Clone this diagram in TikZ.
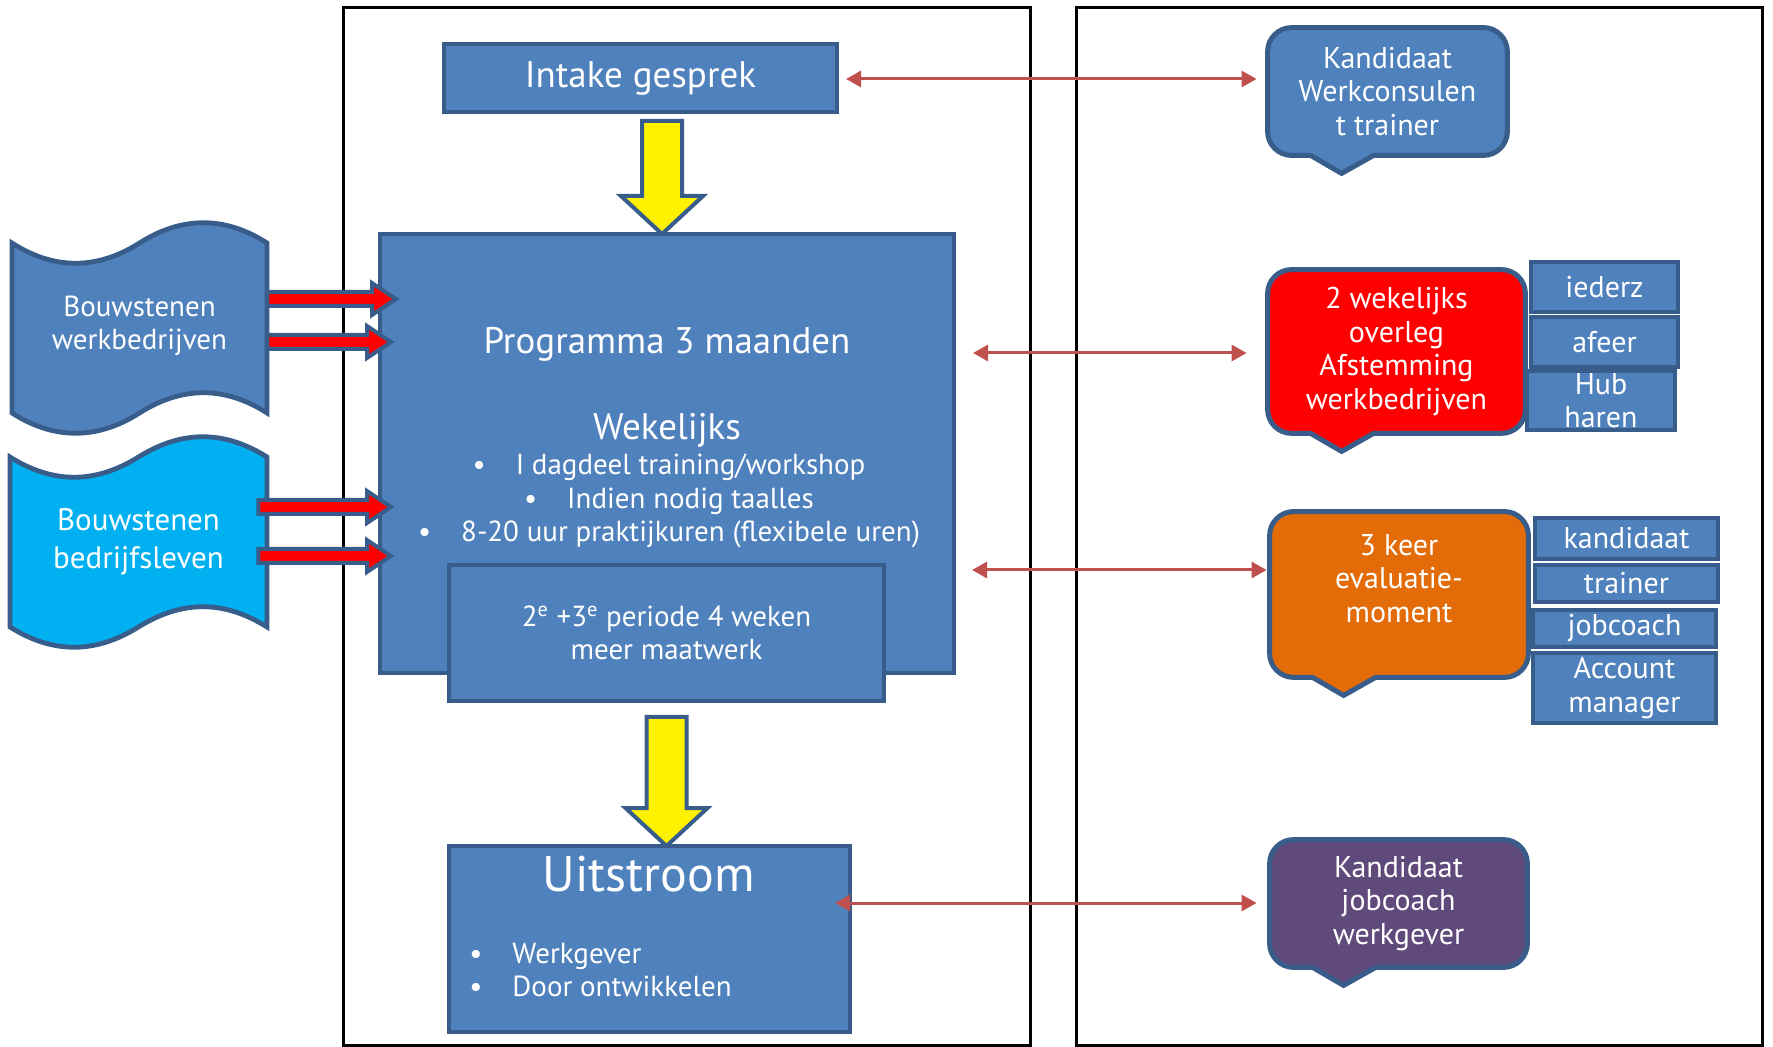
\documentclass[tikz,border=0pt]{standalone}
\usepackage{fontspec}
\setmainfont{PT Sans}
\usetikzlibrary{arrows.meta,calc,backgrounds}

\definecolor{blauw}{HTML}{4F81BD}
\definecolor{rand}{HTML}{385D8A}
\definecolor{lichtblauw}{HTML}{00B0F0}
\definecolor{oranje}{HTML}{E36C09}
\definecolor{paars}{HTML}{604A7B}
\definecolor{pijlrood}{HTML}{C0504D}

\newcommand\grootfont{\fontsize{18.5}{21}\selectfont}
\newcommand\lijstfont{\fontsize{14.5}{16.75}\selectfont}
\newcommand\ballonfont{\fontsize{15}{16.75}\selectfont}

% spreekballon om een node heen
\newcommand{\ballon}[2]{%
  \filldraw[ballonrand, fill=#2] ($(#1.south west)+(43,0)$)
    -- ($(#1.south west)+(24,0)$) arc[start angle=270, end angle=180, radius=12pt]
    -- ($(#1.north west)+(0,24)$) arc[start angle=180, end angle=90, radius=12pt]
    -- ($(#1.north east)+(-24,0)$) arc[start angle=90, end angle=0, radius=12pt]
    -- ($(#1.south east)+(0,-24)$) arc[start angle=0, end angle=-90, radius=12pt]
    -- ($(#1.south west)+(106,0)$) -- ($(#1.south west)+(74,18)$) -- cycle;}

% gele blokpijl naar beneden
\newcommand{\geelpijl}[2]{%
  \filldraw[geelpijl] let \p1=(#1), \p2=(#2) in
    (\x1-10pt,\y1) -- (\x1+10pt,\y1) -- (\x1+10pt,\y2+19pt) -- (\x1+20.5pt,\y2+19pt)
    -- (\x1,\y2) -- (\x1-20.5pt,\y2+19pt) -- (\x1-10pt,\y2+19pt) -- cycle;}

% rode blokpijl naar rechts
\newcommand{\rodepijl}[2]{%
  \filldraw[rodepijl] let \p1=(#1), \p2=(#2) in
    (\x1,\y1+3.5pt) -- (\x2-12pt,\y1+3.5pt) -- (\x2-12pt,\y1+8pt) -- (\x2,\y1)
    -- (\x2-12pt,\y1-8pt) -- (\x2-12pt,\y1-3.5pt) -- (\x1,\y1-3.5pt) -- cycle;}

\begin{document}
\begin{tikzpicture}[x=0.5pt,y=-0.5pt,
    kader/.style={draw=black,line width=1.5pt},
    tekst/.style={text=white,inner sep=0pt,align=center},
    blok/.style={draw=rand,fill=blauw,line width=2pt,inner sep=0pt,text=white,align=center,font=\lijstfont},
    klein/.style={blok,line width=2.4pt,font=\ballonfont},
    tape/.style={draw=rand,line width=2.4pt},
    tapetekst/.style={tekst,inner sep=0pt,font=\lijstfont},
    ballon/.style={tekst,inner sep=0pt,font=\ballonfont},
    ballonrand/.style={draw=rand,line width=2.5pt},
    geelpijl/.style={draw=rand,fill=yellow,line width=2pt},
    rodepijl/.style={draw=rand,fill=red,line width=2pt},
    dblpijl/.style={pijlrood,line width=1.5pt,{Triangle[length=7.5pt,width=8pt]}-{Triangle[length=7.5pt,width=8pt]}}]

  \useasboundingbox (0,0) rectangle (1773,1047);

  % kaders
  \draw[kader] (343,8) rectangle (1030,1045);
  \draw[kader] (1076,8) rectangle (1762,1045);

  % bouwstenen
  \filldraw[tape,fill=blauw] (12,243) .. controls (54,270) and (97,270) .. (139.5,243)
    .. controls (182,216) and (225,216) .. (267,243) -- (267,413)
    .. controls (225,386) and (182,386) .. (139.5,413)
    .. controls (97,440) and (54,440) .. (12,413) -- cycle;
  \node[tapetekst,minimum width=127.5pt,minimum height=104pt] (werk) at (139.5,326) {Bouwstenen\\werkbedrijven};
  \filldraw[tape,fill=lichtblauw] (10,457) .. controls (53,484) and (95,484) .. (138.5,457)
    .. controls (182,430) and (224,430) .. (267,457) -- (267,627)
    .. controls (224,600) and (182,600) .. (138.5,627)
    .. controls (95,654) and (53,654) .. (10,627) -- cycle;
  \node[tapetekst,font=\fontsize{15.5}{19}\selectfont,minimum width=128.5pt,minimum height=105pt] (bedr) at (138.5,542) {Bouwstenen\\bedrijfsleven};

  % middenkolom
  \node[blok,font=\grootfont,minimum width=196.5pt,minimum height=34pt] (intake) at (640.5,78) {Intake gesprek};
  \node[blok,minimum width=287pt,minimum height=219.5pt] (prog) at (667,453.5) {};
  \node[tekst,font=\grootfont] (progtitel) at (667,344) {Programma 3 maanden};
  \node[tekst,font=\grootfont] (wekelijks) at (667,430) {Wekelijks};
  \node[tekst,font=\lijstfont] (wekelijkslijst) at (669,501) {•\hspace{15pt}I dagdeel training/workshop\\
    •\hspace{15pt}Indien nodig taalles\\
    •\hspace{15pt}8-20 uur praktijkuren (flexibele uren)};
  \node[blok,minimum width=217.5pt,minimum height=68pt] (sub) at (666.5,633) {2\textsuperscript{e} +3\textsuperscript{e} periode 4 weken\\meer maatwerk};
  \node[blok,minimum width=200.5pt,minimum height=93pt] (uit) at (649.5,939) {};
  \node[tekst,font=\fontsize{25}{28}\selectfont] (uittitel) at (649,874) {Uitstroom};
  \node[tekst,font=\lijstfont,align=left,anchor=west] (uitlijst) at (469,970) {•\hspace{15pt}Werkgever\\•\hspace{15pt}Door ontwikkelen};

  % rechterkolom
  \node[ballon,minimum width=119.5pt,minimum height=63.5pt] (kand) at (1387.5,91.5) {Kandidaat\\Werkconsulen\\t trainer};
  \node[ballon,minimum width=128.5pt,minimum height=81.5pt] (overleg) at (1396.5,351.5) {2 wekelijks\\overleg\\Afstemming\\werkbedrijven};
  \node[ballon,minimum width=129pt,minimum height=82.5pt] (evalu) at (1399,594.5) {};
  \node[ballon] (evalutekst) at (1399,578.5) {3 keer\\evaluatie-\\moment};
  \node[ballon,minimum width=128.5pt,minimum height=63.5pt] (werkgever) at (1398.5,903.5) {Kandidaat\\jobcoach\\werkgever};
  \begin{scope}[on background layer]
    \ballon{kand}{blauw}
    \ballon{overleg}{red}
    \ballon{evalu}{oranje}
    \ballon{werkgever}{paars}
  \end{scope}

  \node[klein,minimum width=73.5pt,minimum height=25pt] (iederz) at (1604.5,287) {iederz};
  \node[klein,minimum width=73.5pt,minimum height=25pt] (afeer) at (1604.5,342) {afeer};
  \node[klein,minimum width=74pt,minimum height=29.5pt] (hub) at (1601,400.5) {Hub\\haren};
  \node[klein,minimum width=91.5pt,minimum height=20.5pt] (kandidaat) at (1626.5,538.5) {kandidaat};
  \node[klein,minimum width=91.5pt,minimum height=18.5pt] (trainer) at (1626.5,583.5) {trainer};
  \node[klein,minimum width=91.5pt,minimum height=18.5pt] (jobcoach) at (1624.5,628.5) {jobcoach};
  \node[klein,minimum width=91.5pt,minimum height=35pt] (account) at (1624.5,688) {Account\\manager};

  % pijlen
  \geelpijl{$(intake.south -| prog.north)+(-5,7)$}{$(prog.north)+(-5,2)$}
  \geelpijl{$(sub.south)+(0,14)$}{$(uit.north -| sub.south)+(0,2)$}
  \rodepijl{[yshift=13.5pt]werk.east}{[xshift=9pt]prog.west}
  \rodepijl{[yshift=-8pt]werk.east}{[xshift=6.5pt]prog.west}
  \rodepijl{[xshift=-4.5pt,yshift=17.5pt]bedr.east}{[xshift=6.5pt]prog.west}
  \rodepijl{[xshift=-4.5pt,yshift=-7pt]bedr.east}{[xshift=6.5pt]prog.west}

  \draw[dblpijl] ($(intake.east)+(7,1)$) -- ($(intake.east -| kand.west)+(-11,1)$);
  \draw[dblpijl] ($(overleg.west -| prog.east)+(17,1.5)$) -- ($(overleg.west)+(-21,1.5)$);
  \draw[dblpijl] ($(evalu.west -| prog.east)+(16,-24.5)$) -- ($(evalu.west)+(-3,-24.5)$);
  \draw[dblpijl] ($(werkgever.west -| uit.east)+(-17,-0.5)$) -- ($(werkgever.west)+(-13,-0.5)$);
\end{tikzpicture}
\end{document}
